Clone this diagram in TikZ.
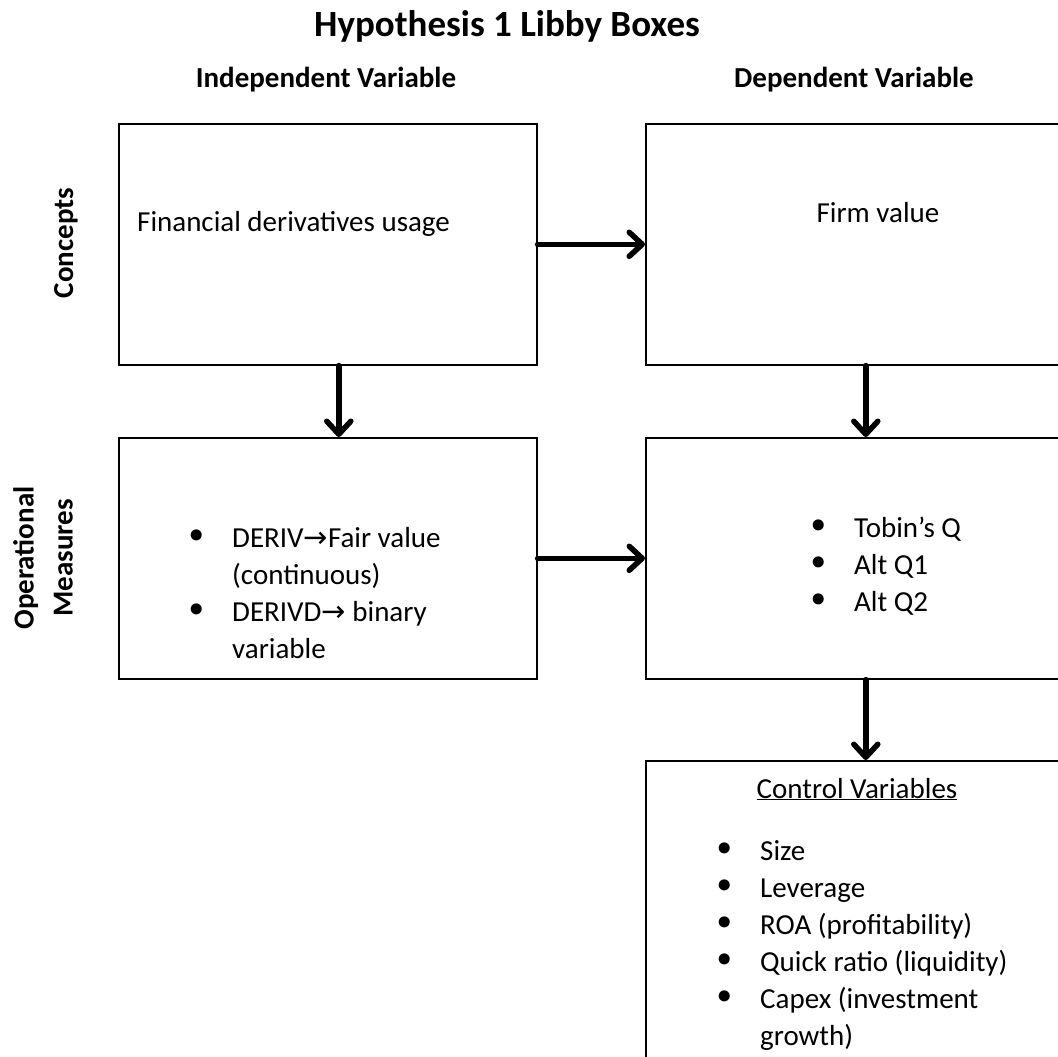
\documentclass[tikz,border=0pt]{standalone}
\usepackage{fontspec}
\setmainfont{Carlito}
\newfontfamily\arrfont{DejaVu Sans}
\usetikzlibrary{positioning,arrows.meta}

\newcommand\bul{\makebox[47pt][l]{\raisebox{-2.5pt}{\fontsize{38}{37}\selectfont\arrfont\textbullet}}}
\newcommand\rarr{{\arrfont →}}

\begin{document}
\begin{tikzpicture}[x=1pt, y=-1pt,
    >={Straight Barb[length=13pt, width=24pt, round]},
    box/.style={draw, line width=1.6pt, minimum width=418pt, minimum height=241pt,
        inner sep=0pt, anchor=north west},
    link/.style={->, line width=5.5pt, line cap=round},
    head/.style={font=\fontsize{29}{35}\selectfont\bfseries},
    body/.style={font=\fontsize{29}{37}\selectfont, inner sep=0pt}]
    \useasboundingbox (0,0) rectangle (1058,1057);
    \clip (0,0) rectangle (1058,1057);

    % --- Titles ---
    \node[font=\fontsize{37}{44}\selectfont\bfseries, anchor=base] (title) at (507,37) {Hypothesis 1 Libby Boxes};
    \node[head, anchor=base] (indep) at (326,88) {Independent Variable};
    \node[head, anchor=base] (dep) at (854,88) {Dependent Variable};
    % Row labels (rotated)
    \node[head, rotate=90] (concepts) at (66,243) {Concepts};
    \node[head, rotate=90, align=center, font=\fontsize{29}{39}\selectfont\bfseries] (opmeas) at (43,558) {Operational\\Measures};

    % --- Boxes ---
    \node[box] (fdu) at (118,123) {};
    \node[box] (fv) at (645,123) {};
    \node[box] (deriv) at (118,437) {};
    \node[box] (tq) at (645,437) {};
    \node[box, minimum height=330pt] (ctrl) at (645,760) {};

    % --- Box texts ---
    \node[body, anchor=base west] (fdutext) at (137,231) {Financial derivatives usage};
    \node[body, anchor=base] (fvtext) at (878,222) {Firm value};
    \node[body, anchor=base west] (derivlist) at (185,547) {%
        \begin{tabular}[t]{@{}l@{}l@{}}
        \bul & DERIV\rarr Fair value\\
             & (continuous)\\
        \bul & DERIVD\rarr\ binary\\
             & variable
        \end{tabular}};
    \node[body, anchor=base west] (tqlist) at (807,537) {%
        \begin{tabular}[t]{@{}l@{}l@{}}
        \bul & Tobin’s Q\\
        \bul & Alt Q1\\
        \bul & Alt Q2
        \end{tabular}};
    \node[body, anchor=base] (ctrltitle) at (857,798) {\underline{Control Variables}};
    \node[body, anchor=base west] (ctrllist) at (713,860) {%
        \begin{tabular}[t]{@{}l@{}l@{}}
        \bul & Size\\
        \bul & Leverage\\
        \bul & ROA (profitability)\\
        \bul & Quick ratio (liquidity)\\
        \bul & Capex (investment\\
             & growth)
        \end{tabular}};

    % --- Arrows ---
    \draw[link] (fdu) -- (fv);
    \draw[link] (deriv) -- (tq);
    \draw[link] ([xshift=11pt]fdu.south) -- ([xshift=11pt]deriv.north);
    \draw[link] ([xshift=11pt]fv.south) -- ([xshift=11pt]tq.north);
    \draw[link] ([xshift=11pt]tq.south) -- ([xshift=11pt]ctrl.north);
\end{tikzpicture}
\end{document}
